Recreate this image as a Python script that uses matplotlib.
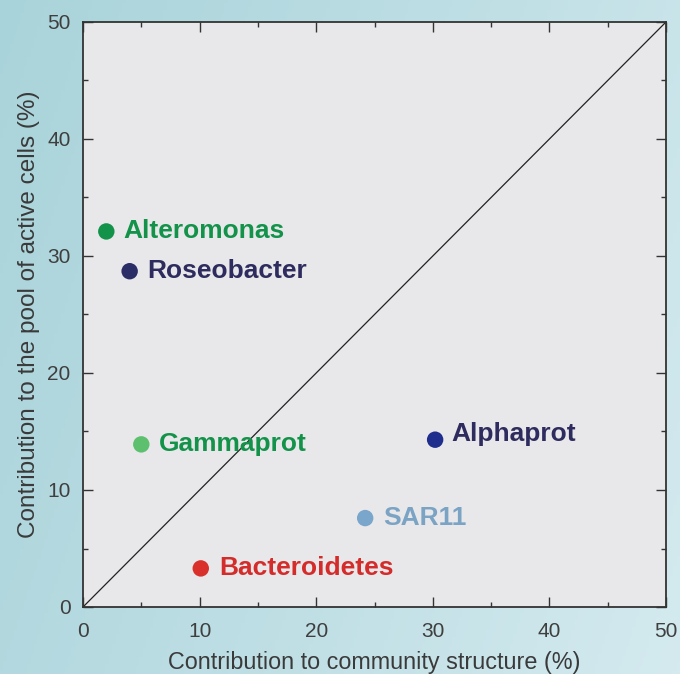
import numpy as np
import matplotlib
matplotlib.use("Agg")
import matplotlib.pyplot as plt
from matplotlib.colors import LinearSegmentedColormap
from matplotlib.ticker import MultipleLocator

names = ["Alteromonas", "Roseobacter", "Gammaprot", "Alphaprot", "SAR11", "Bacteroidetes"]
community = [2.0, 4.0, 5.0, 30.2, 24.2, 10.1]
active = [32.1, 28.7, 13.9, 14.3, 7.6, 3.3]
point_colors = ["#13924a", "#2a2d66", "#5cc06e", "#1f2e8c", "#7aa6cc", "#d9302c"]
label_colors = ["#13924a", "#2e2c5e", "#13924a", "#2e2c5e", "#7aa3c4", "#d42b2b"]

plt.rcParams['font.family'] = ['Liberation Sans', 'DejaVu Sans']

fig = plt.figure(figsize=(6.8, 6.74), dpi=100)

# background gradient
bg = fig.add_axes([0, 0, 1, 1], zorder=-10)
cmap = LinearSegmentedColormap.from_list("bg", ["#a9d3da", "#bddee4", "#d4eaef"])
xx, yy = np.meshgrid(np.linspace(0, 1, 200), np.linspace(0, 1, 200))
grad = 0.75 * xx + 0.25 * yy
bg.imshow(grad, cmap=cmap, aspect="auto", extent=[0, 1, 0, 1], origin="upper")
bg.axis("off")

ax = fig.add_axes([83 / 680, 1 - 607 / 674, (666 - 83) / 680, (607 - 22) / 674])
ax.set_facecolor("#e8e8ea")
ax.set_xlim(0, 50)
ax.set_ylim(0, 50)

ax.plot([0, 50], [0, 50], color="#222222", lw=0.9, zorder=1)

ax.scatter(community, active, s=140, c=point_colors, zorder=3, edgecolors="none")

offsets = [(12.5, 0), (13, 0), (13, 0), (12, 4), (13, 0), (13, 0)]
for n, x, y, c, off in zip(names, community, active, label_colors, offsets):
    ax.annotate(n, (x, y), xytext=off, textcoords="offset points",
                ha="left", va="center", fontsize=19, fontweight="bold", color=c, zorder=4)

ax.xaxis.set_major_locator(MultipleLocator(10))
ax.xaxis.set_minor_locator(MultipleLocator(5))
ax.yaxis.set_major_locator(MultipleLocator(10))
ax.yaxis.set_minor_locator(MultipleLocator(5))
ax.tick_params(which="both", direction="in", top=True, right=True, color="#333333", width=1.0)
ax.tick_params(which="major", length=7, labelsize=15, labelcolor="#3f3f3f", pad=9)
ax.tick_params(axis="x", which="major", pad=11)
ax.tick_params(which="minor", length=3.5)
for s in ax.spines.values():
    s.set_color("#333333")
    s.set_linewidth(1.3)

ax.set_xlabel("Contribution to community structure (%)", fontsize=16.8, color="#3a3a3a", labelpad=7)
ax.set_ylabel("Contribution to the pool of active cells (%)", fontsize=17.5, color="#3a3a3a", labelpad=5)

fig.savefig("out.png", dpi=100)
